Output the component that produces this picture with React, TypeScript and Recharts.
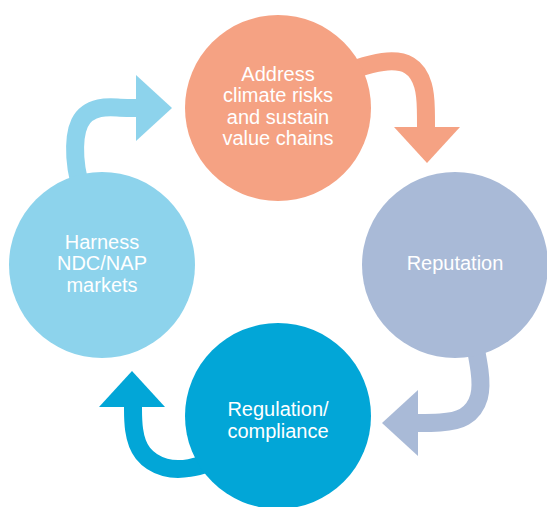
import React from 'react';
import { ComposedChart, Line, Scatter, XAxis, YAxis } from 'recharts';

const W = 547;
const H = 507;

// cycle stages (plotted on hidden axes, y reversed)
const nodeLabels = [
  'Address\nclimate risks\nand sustain\nvalue chains',
  'Reputation',
  'Regulation/\ncompliance',
  'Harness\nNDC/NAP\nmarkets',
];
const nodeX = [278, 455, 278, 102];
const nodeY = [108, 265, 416, 265];
const nodeColors = ['#F5A283', '#A9BAD7', '#02A6D7', '#8DD3EC'];

// connector control points (basis curve)
const arrowTopToRight = [[352, 70], [383, 60], [412, 62], [425, 85], [426, 110], [426, 129]];
const arrowRightToBottom = [[475, 345], [480, 370], [482, 398], [466, 420], [440, 423], [415, 423]];
const arrowBottomToLeft = [[212, 462], [190, 469], [165, 470], [140, 455], [133, 430], [133, 405]];
const arrowLeftToTop = [[80, 185], [74, 160], [76, 118], [100, 106], [120, 108], [139, 108]];
const arrowColors = ['#F5A283', '#A9BAD7', '#02A6D7', '#8DD3EC'];

// arrow heads: tip position and pointing angle (deg, 0 = right)
const headX = [427, 382, 132, 172];
const headY = [163, 423, 371, 108];
const headAngle = [90, 180, 270, 0];

const NODE_R = 93;
const LINE_H = 21.5;
const BAND_W = 18;
const HEAD_LEN = 36;
const HEAD_HALF = 33;
// small vertical nudges of the label blocks
const LABEL_SHIFT = [0, 0, 6, 0];

const nodes = nodeLabels.map((label, i) => ({ x: nodeX[i], y: nodeY[i], label, color: nodeColors[i], shift: LABEL_SHIFT[i] }));
const arrows = [arrowTopToRight, arrowRightToBottom, arrowBottomToLeft, arrowLeftToTop].map((pts, i) => ({
  color: arrowColors[i],
  data: pts.map(([x, y]) => ({ x, y })),
}));
const heads = headX.map((x, i) => ({ x, y: headY[i], angle: headAngle[i], color: arrowColors[i] }));

const NodeShape = (props: any) => {
  const { cx, cy, payload } = props;
  const lines: string[] = payload.label.split('\n');
  const start = cy - ((lines.length - 1) * LINE_H) / 2 + 5 + payload.shift;
  return (
    <g>
      <circle cx={cx} cy={cy} r={NODE_R} fill={payload.color} />
      <text
        textAnchor="middle"
        fill="#ffffff"
        fontSize={20}
        fontFamily='"Liberation Sans", Arial, sans-serif'
      >
        {lines.map((l, i) => (
          <tspan key={i} x={cx} y={start + i * LINE_H}>
            {l}
          </tspan>
        ))}
      </text>
    </g>
  );
};

const HeadShape = (props: any) => {
  const { cx, cy, payload } = props;
  return (
    <polygon
      transform={`translate(${cx},${cy}) rotate(${payload.angle})`}
      points={`0,0 ${-HEAD_LEN},${-HEAD_HALF} ${-HEAD_LEN},${HEAD_HALF}`}
      fill={payload.color}
    />
  );
};

const App: React.FC = () => {
  return (
    <div style={{ position: 'absolute', left: 0, top: 0, width: W, height: H, background: '#ffffff' }}>
      <ComposedChart width={W} height={H} margin={{ top: 0, right: 0, bottom: 0, left: 0 }}>
        <XAxis dataKey="x" type="number" domain={[0, W]} allowDataOverflow hide />
        <YAxis dataKey="y" type="number" domain={[0, H]} allowDataOverflow reversed hide />
        {arrows.map((a, i) => (
          <Line
            key={i}
            data={a.data}
            dataKey="y"
            type="basis"
            stroke={a.color}
            strokeWidth={BAND_W}
            dot={false}
            activeDot={false}
            isAnimationActive={false}
          />
        ))}
        <Scatter data={nodes} dataKey="y" shape={<NodeShape />} isAnimationActive={false} />
        <Scatter data={heads} dataKey="y" shape={<HeadShape />} isAnimationActive={false} />
      </ComposedChart>
    </div>
  );
};

export default App;
